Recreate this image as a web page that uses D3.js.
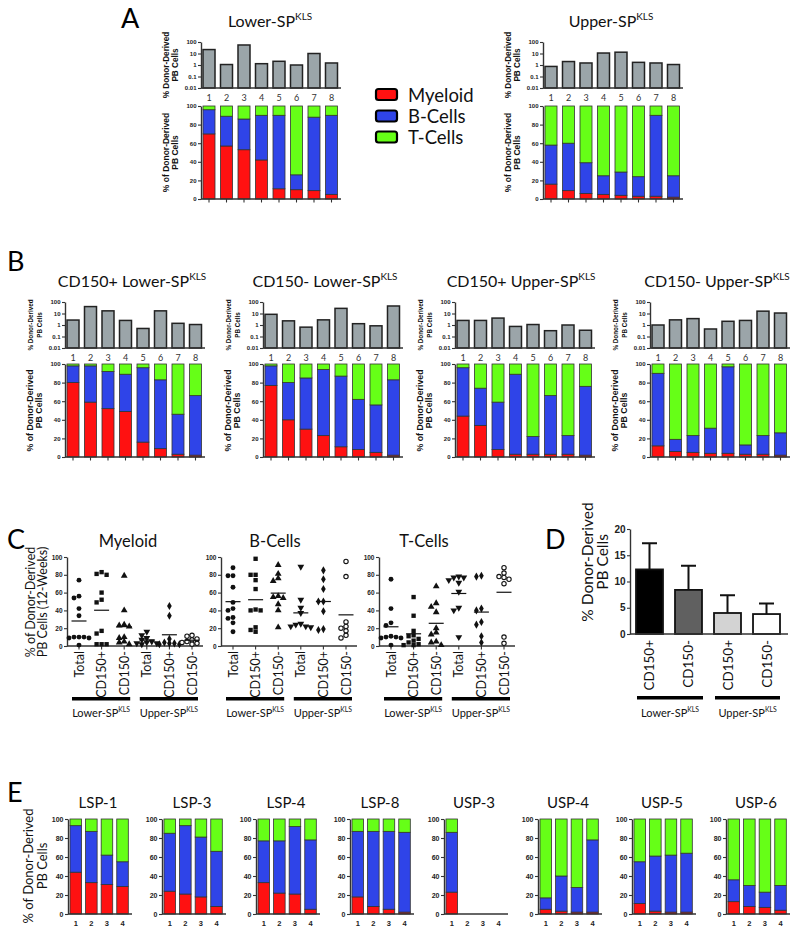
<!DOCTYPE html>
<html><head><meta charset="utf-8">
<script src="https://cdn.jsdelivr.net/npm/d3@7"></script>
<style>body{margin:0;background:#fff;}</style>
</head><body>
<svg id="fig" width="800" height="933"></svg>
<script>
// ---------------- DATA ----------------
const donors = ["1","2","3","4","5","6","7","8"];
const timepoints = ["1","2","3","4"];
const logTicks = [0.01, 0.1, 1, 10, 100];
const pctTicks = [0, 20, 40, 60, 80, 100];
const dTicks = [0, 5, 10, 15, 20];
const lineages = ["Myeloid", "B-Cells", "T-Cells"];

// Panel A
const lowerSPTotal   = [22, 1.1, 55, 1.3, 2.1, 1.0, 10, 1.5];
const lowerSPMyeloid = [70, 57, 53, 42, 11, 10, 9, 5];
const lowerSPBcell   = [26, 32, 33, 48, 79, 16, 79, 85];
const lowerSPTcell   = [4, 11, 14, 10, 10, 74, 12, 10];
const upperSPTotal   = [0.75, 2.0, 1.5, 11, 13, 1.7, 1.5, 1.1];
const upperSPMyeloid = [16, 9, 6, 5, 4, 3, 3, 2];
const upperSPBcell   = [42, 51, 33, 20, 25, 21, 87, 23];
const upperSPTcell   = [42, 40, 61, 75, 71, 76, 10, 75];

// Panel B
const cd150pLowerTotal   = [2.7, 40, 17, 2.5, 0.5, 17, 1.4, 1.1];
const cd150pLowerMyeloid = [80, 59, 52, 49, 16, 9, 3, 2];
const cd150pLowerBcell   = [18, 39, 40, 40, 80, 74, 43, 64];
const cd150pLowerTcell   = [2, 2, 8, 11, 4, 17, 54, 34];
const cd150mLowerTotal   = [8.5, 2.3, 0.65, 2.8, 28, 1.3, 0.85, 45];
const cd150mLowerMyeloid = [77, 40, 30, 23, 11, 8, 5, 2];
const cd150mLowerBcell   = [21, 40, 55, 71, 76, 54, 51, 81];
const cd150mLowerTcell   = [2, 20, 15, 6, 13, 38, 44, 17];
const cd150pUpperTotal   = [2.5, 2.5, 4, 0.75, 1.1, 0.32, 1.0, 0.35];
const cd150pUpperMyeloid = [44, 34, 8, 3, 3, 3, 3, 2];
const cd150pUpperBcell   = [52, 40, 51, 86, 19, 63, 20, 74];
const cd150pUpperTcell   = [4, 26, 41, 11, 78, 34, 77, 24];
const cd150mUpperTotal   = [1.0, 2.8, 3.6, 0.45, 2.1, 2.5, 16, 11];
const cd150mUpperMyeloid = [12, 6, 5, 4, 4, 3, 3, 2];
const cd150mUpperBcell   = [78, 13, 18, 27, 93, 10, 20, 24];
const cd150mUpperTcell   = [10, 81, 77, 69, 3, 87, 77, 74];

// Panel C
const cGroups = ["Total", "CD150+", "CD150-", "Total", "CD150+", "CD150-"];
const myeloidLowerTotal  = [74, 56, 54, 42, 34, 10, 10, 9, 9, 10, 1];
const myeloidLowerCD150p = [81, 80, 83, 60, 52, 49, 17, 14, 2, 2, 2];
const myeloidLowerCD150m = [79, 40, 24, 23, 22, 10, 9, 5, 4, 2];
const myeloidUpperTotal  = [16, 12, 9, 7, 5, 4, 3, 3, 2];
const myeloidUpperCD150p = [45, 34, 8, 4, 3, 3, 2, 2];
const myeloidUpperCD150m = [12, 11, 8, 7, 5, 4, 3, 2];
const bcellLowerTotal    = [88, 79, 79, 66, 49, 42, 40, 32, 31, 26, 16];
const bcellLowerCD150p   = [98, 80, 80, 74, 64, 41, 40, 40, 21, 18, 16];
const bcellLowerCD150m   = [91, 81, 76, 73, 56, 55, 54, 47, 40, 21];
const bcellUpperTotal    = [89, 52, 43, 37, 25, 24, 22, 22, 21];
const bcellUpperCD150p   = [85, 75, 64, 50, 50, 39, 18, 19];
const bcellUpperCD150m   = [95, 78, 27, 22, 20, 17, 12, 9];
const tcellLowerTotal    = [75, 42, 26, 23, 11, 10, 10, 9, 9, 1];
const tcellLowerCD150p   = [55, 34, 17, 12, 11, 8, 6, 4, 2, 1, 1];
const tcellLowerCD150m   = [67, 48, 44, 38, 20, 15, 13, 5, 4, 1];
const tcellUpperTotal    = [77, 78, 77, 74, 71, 61, 43, 40, 10];
const tcellUpperCD150p   = [79, 78, 42, 40, 27, 24, 11, 4];
const tcellUpperCD150m   = [88, 82, 78, 77, 75, 70, 10, 3];

// Panel D
const dGroups = ["CD150+", "CD150-", "CD150+", "CD150-"];
const dMean = [12.3, 8.4, 4.0, 3.8];
const dSD   = [5.0, 4.6, 3.4, 2.0];

// Panel E
const eTitles = ["LSP-1", "LSP-3", "LSP-4", "LSP-8", "USP-3", "USP-4", "USP-5", "USP-6"];
const lsp1Myeloid = [44, 33, 31, 29], lsp1Bcell = [49, 54, 31, 26], lsp1Tcell = [7, 13, 38, 45];
const lsp3Myeloid = [24, 21, 18, 8],  lsp3Bcell = [61, 72, 63, 58], lsp3Tcell = [15, 7, 19, 34];
const lsp4Myeloid = [33, 22, 21, 5],  lsp4Bcell = [44, 55, 71, 73], lsp4Tcell = [23, 23, 8, 22];
const lsp8Myeloid = [18, 8, 5, 2],    lsp8Bcell = [69, 79, 82, 84], lsp8Tcell = [13, 13, 13, 14];
const usp3Myeloid = [23, null, null, null], usp3Bcell = [63, null, null, null], usp3Tcell = [14, null, null, null];
const usp4Myeloid = [5, 3, 2, 2],     usp4Bcell = [12, 37, 26, 76], usp4Tcell = [83, 60, 72, 22];
const usp5Myeloid = [11, 3, 2, 2],    usp5Bcell = [44, 58, 60, 62], usp5Tcell = [45, 39, 38, 36];
const usp6Myeloid = [13, 8, 7, 4],    usp6Bcell = [23, 22, 16, 26], usp6Tcell = [64, 70, 77, 70];

// ---------------- DRAWING ----------------
const svg = d3.select("#fig");
const FONT = "Lato, 'Open Sans', sans-serif";
const AXF = "'Liberation Sans', Arial, sans-serif";
const col = {"Myeloid": "#ff1111", "B-Cells": "#2f44e8", "T-Cells": "#66ff17"};

function supText(g, x, y, main, sup, fs, anchor) {
  const t = g.append("text").attr("x", x).attr("y", y)
    .attr("font-family", FONT).attr("font-size", fs)
    .attr("text-anchor", anchor || "middle").attr("fill", "#111");
  t.append("tspan").text(main);
  if (sup) t.append("tspan").attr("font-size", fs * 0.62).attr("dy", -fs * 0.42).text(sup);
  return t;
}
function rotLabel(g, x, y, txt, fs, weight, family) {
  g.append("text").attr("transform", `translate(${x},${y}) rotate(-90)`)
    .attr("text-anchor", "middle").attr("font-family", family || FONT)
    .attr("font-weight", weight || "normal").attr("font-size", fs).attr("fill", "#111").text(txt);
}
function leftAxis(g, scale, ticks, fmt, x, fs) {
  const a = d3.axisLeft(scale).tickValues(ticks).tickFormat(fmt).tickSize(3).tickSizeOuter(0).tickPadding(1.5);
  const gg = g.append("g").attr("transform", `translate(${x},0)`).call(a);
  gg.select(".domain").attr("stroke", "#333").attr("stroke-width", 1.4);
  gg.selectAll(".tick line").attr("stroke", "#333").attr("stroke-width", 1.1);
  gg.selectAll(".tick text").attr("font-family", AXF).attr("font-weight", "bold")
    .attr("font-size", fs).attr("fill", "#222");
  return gg;
}
function hline(g, x1, x2, y) {
  g.append("line").attr("x1", x1).attr("x2", x2).attr("y1", y).attr("y2", y)
    .attr("stroke", "#333").attr("stroke-width", 1.4);
}
function stackBars(g, x, y, cats, m, b, t) {
  const rows = cats.map((c, i) => ({cat: c, "Myeloid": m[i], "B-Cells": b[i], "T-Cells": t[i]}))
    .filter(r => r["Myeloid"] != null);
  const series = d3.stack().keys(lineages)(rows);
  g.append("g").selectAll("g").data(series).join("g").attr("fill", d => col[d.key])
    .selectAll("rect").data(d => d).join("rect")
    .attr("x", d => x(d.data.cat)).attr("width", x.bandwidth())
    .attr("y", d => y(d[1])).attr("height", d => y(d[0]) - y(d[1]))
    .attr("stroke", "#333").attr("stroke-width", 0.8);
}

function compPanel(c) {
  const g = svg.append("g");
  const x = d3.scaleBand().domain(donors).range([c.ax + 2, c.ax + 136.5]).paddingInner(0.314).paddingOuter(0);
  const yl = d3.scaleLog().domain([0.01, 100]).range([c.logBot, c.logTop]);
  g.append("g").selectAll("rect").data(c.total).join("rect")
    .attr("x", (d, i) => x(donors[i])).attr("width", x.bandwidth())
    .attr("y", d => yl(d)).attr("height", d => c.logBot - yl(d))
    .attr("fill", "#9ba5a9").attr("stroke", "#222").attr("stroke-width", 1.5);
  leftAxis(g, yl, logTicks, d => String(d), c.ax, 6);
  hline(g, c.ax, c.ax + 140, c.logBot);
  g.append("g").selectAll("text").data(donors).join("text")
    .attr("x", d => x(d) + x.bandwidth() / 2).attr("y", c.logBot + 12.5)
    .attr("text-anchor", "middle").attr("font-family", FONT).attr("font-size", 9)
    .attr("fill", "#333").text(d => d);
  const ys = d3.scaleLinear().domain([0, 100]).range([c.stBot, c.stTop]);
  stackBars(g, x, ys, donors, c.m, c.b, c.t);
  leftAxis(g, ys, pctTicks, d => d, c.ax, 6);
  hline(g, c.ax, c.ax + 140, c.stBot);
  g.append("g").selectAll("line").data(donors).join("line")
    .attr("x1", d => x(d) + x.bandwidth() / 2).attr("x2", d => x(d) + x.bandwidth() / 2)
    .attr("y1", c.stBot).attr("y2", c.stBot + 3.5).attr("stroke", "#333").attr("stroke-width", 1.1);
  const lm = (c.logTop + c.logBot) / 2, sm = (c.stTop + c.stBot) / 2;
  rotLabel(g, c.ax - 32, lm, "% Donor-Derived", c.upFs, "bold", AXF);
  rotLabel(g, c.ax - 23, lm, "PB Cells", c.upFs, "bold", AXF);
  rotLabel(g, c.ax - 32, sm, "% of Donor-Derived", c.lowFs, "bold", AXF);
  rotLabel(g, c.ax - 23, sm, "PB Cells", c.lowFs, "bold", AXF);
  supText(g, c.titleX, c.titleY, c.title, "KLS", 16);
}

// Panel letters
[["A", 121, 28], ["B", 7, 271], ["C", 7, 549], ["D", 545, 549], ["E", 7, 802]].forEach(([l, x, y]) => {
  svg.append("text").attr("x", x).attr("y", y).attr("font-family", FONT)
    .attr("font-size", 27).attr("fill", "#000").text(l);
});

// A
compPanel({ax: 201, logTop: 42, logBot: 88, stTop: 106, stBot: 199, total: lowerSPTotal,
  m: lowerSPMyeloid, b: lowerSPBcell, t: lowerSPTcell, title: "Lower-SP", titleX: 270, titleY: 27, upFs: 8.2, lowFs: 8.5});
compPanel({ax: 543, logTop: 42, logBot: 88, stTop: 106, stBot: 199, total: upperSPTotal,
  m: upperSPMyeloid, b: upperSPBcell, t: upperSPTcell, title: "Upper-SP", titleX: 611, titleY: 27, upFs: 8.2, lowFs: 8.5});

// legend
const leg = svg.append("g");
lineages.forEach((k, i) => {
  const cy = [94.5, 116, 137][i];
  leg.append("rect").attr("x", 376).attr("y", cy - 5.5).attr("width", 21).attr("height", 11)
    .attr("rx", 2.5).attr("fill", col[k]).attr("stroke", "#000").attr("stroke-width", 2.2);
  leg.append("text").attr("x", 408).attr("y", cy + 7).attr("font-family", FONT)
    .attr("font-size", 18.5).attr("fill", "#111").text(k);
});

// B
const bTop = {logTop: 302, logBot: 348, stTop: 364, stBot: 457, titleY: 287, upFs: 6.3, lowFs: 8.8};
compPanel(Object.assign({ax: 65, total: cd150pLowerTotal, m: cd150pLowerMyeloid, b: cd150pLowerBcell, t: cd150pLowerTcell,
  title: "CD150+ Lower-SP", titleX: 132}, bTop));
compPanel(Object.assign({ax: 263, total: cd150mLowerTotal, m: cd150mLowerMyeloid, b: cd150mLowerBcell, t: cd150mLowerTcell,
  title: "CD150- Lower-SP", titleX: 325}, bTop));
compPanel(Object.assign({ax: 455, total: cd150pUpperTotal, m: cd150pUpperMyeloid, b: cd150pUpperBcell, t: cd150pUpperTcell,
  title: "CD150+ Upper-SP", titleX: 521}, bTop));
compPanel(Object.assign({ax: 650, total: cd150mUpperTotal, m: cd150mUpperMyeloid, b: cd150mUpperBcell, t: cd150mUpperTcell,
  title: "CD150- Upper-SP", titleX: 717}, bTop));

// C
const shapes = [
  {type: d3.symbolCircle, size: 19},
  {type: d3.symbolSquare, size: 19},
  {type: d3.symbolTriangle, size: 20},
  {type: d3.symbolTriangle, size: 20, rot: true},
  {type: d3.symbolDiamond, size: 19},
  {type: d3.symbolCircle, size: 15, open: true}
];
function swarm(vals, cx, y) {
  const sorted = vals.map((v, i) => ({v, i})).sort((a, b) => b.v - a.v);
  const placed = [];
  const offs = [0, -5, 5, -10, 10, -15, 15];
  sorted.forEach(p => {
    const py = y(p.v);
    for (const o of offs) {
      if (!placed.some(q => Math.abs(q.x - (cx + o)) < 4.5 && Math.abs(q.y - py) < 4)) { p.x = cx + o; p.y = py; break; }
    }
    if (p.x == null) { p.x = cx; p.y = py; }
    placed.push(p);
  });
  return placed;
}
function groupBars(g, segs, yLine, yText) {
  segs.forEach(([x1, x2, name]) => {
    g.append("rect").attr("x", x1).attr("y", yLine).attr("width", x2 - x1).attr("height", 3.5).attr("fill", "#000");
    supText(g, (x1 + x2) / 2, yText, name, "KLS", 11);
  });
}
function scatterPanel(c) {
  const g = svg.append("g");
  const y = d3.scaleLinear().domain([0, 100]).range([646, 557]);
  const x = d3.scalePoint().domain(d3.range(6)).range([c.ax + 12, c.ax + 125]);
  leftAxis(g, y, pctTicks, d => d, c.ax, 6.5);
  hline(g, c.ax, c.ax + 136, 646);
  g.append("g").selectAll("line").data(d3.range(6)).join("line")
    .attr("x1", d => x(d)).attr("x2", d => x(d)).attr("y1", 646).attr("y2", 649.5)
    .attr("stroke", "#333").attr("stroke-width", 1.1);
  c.groups.forEach((vals, gi) => {
    const pts = swarm(vals, x(gi), y);
    const sh = shapes[gi];
    g.append("g").selectAll("path").data(pts).join("path")
      .attr("transform", d => `translate(${d.x},${d.y})${sh.rot ? " rotate(180)" : ""}`)
      .attr("d", d3.symbol().type(sh.type).size(sh.size))
      .attr("fill", sh.open ? "#fff" : "#111").attr("stroke", "#111").attr("stroke-width", sh.open ? 1.1 : 0);
    const mu = d3.mean(vals);
    g.append("line").attr("x1", x(gi) - 7.5).attr("x2", x(gi) + 7.5).attr("y1", y(mu)).attr("y2", y(mu))
      .attr("stroke", "#111").attr("stroke-width", 1.2);
  });
  g.append("g").selectAll("text").data(cGroups).join("text")
    .attr("transform", (d, i) => `translate(${x(i) + 4.5},${651}) rotate(-90)`)
    .attr("text-anchor", "end").attr("font-family", FONT).attr("font-size", 12.5).attr("fill", "#111").text(d => d);
  groupBars(g, [[x(0) - 7, x(2) + 6, "Lower-SP"], [x(3) - 7, x(5) + 6, "Upper-SP"]], 697, 717);
  g.append("text").attr("x", c.titleX).attr("y", 547).attr("text-anchor", "middle")
    .attr("font-family", FONT).attr("font-size", 16.5).attr("fill", "#111").text(c.title);
}
const cg = svg.append("g");
rotLabel(cg, 35, 602, "% of Donor-Derived", 12.5);
rotLabel(cg, 47, 602, "PB Cells (12-Weeks)", 12.5);
scatterPanel({ax: 67, title: "Myeloid", titleX: 128, groups: [myeloidLowerTotal, myeloidLowerCD150p, myeloidLowerCD150m, myeloidUpperTotal, myeloidUpperCD150p, myeloidUpperCD150m]});
scatterPanel({ax: 221, title: "B-Cells", titleX: 275, groups: [bcellLowerTotal, bcellLowerCD150p, bcellLowerCD150m, bcellUpperTotal, bcellUpperCD150p, bcellUpperCD150m]});
scatterPanel({ax: 379, title: "T-Cells", titleX: 424, groups: [tcellLowerTotal, tcellLowerCD150p, tcellLowerCD150m, tcellUpperTotal, tcellUpperCD150p, tcellUpperCD150m]});

// D
(function () {
  const g = svg.append("g");
  const y = d3.scaleLinear().domain([0, 20]).range([634, 529]);
  const x = d3.scaleBand().domain(d3.range(4)).range([636, 780]).paddingInner(0.308).paddingOuter(0);
  const fills = ["#000000", "#606060", "#d3d3d3", "#ffffff"];
  g.append("g").selectAll("path").data(dMean).join("path")
    .attr("d", (d, i) => {
      const cx = x(i) + x.bandwidth() / 2, yt = y(d + dSD[i]);
      return `M${cx},${y(d)}V${yt}M${cx - 7.5},${yt}H${cx + 7.5}`;
    }).attr("stroke", "#111").attr("stroke-width", 2).attr("fill", "none");
  g.append("g").selectAll("rect").data(dMean).join("rect")
    .attr("x", (d, i) => x(i)).attr("width", x.bandwidth())
    .attr("y", d => y(d)).attr("height", d => 634 - y(d))
    .attr("fill", (d, i) => fills[i]).attr("stroke", "#111").attr("stroke-width", 1.8);
  leftAxis(g, y, dTicks, d => d, 630, 10);
  hline(g, 630, 788, 634);
  g.append("g").selectAll("text").data(dGroups).join("text")
    .attr("transform", (d, i) => `translate(${x(i) + x.bandwidth() / 2 + 5},${640}) rotate(-90)`)
    .attr("text-anchor", "end").attr("font-family", FONT).attr("font-size", 13.5).attr("fill", "#111").text(d => d);
  rotLabel(g, 593, 562, "% Donor-Derived", 15.5);
  rotLabel(g, 608, 562, "PB Cells", 15.5);
  groupBars(g, [[637, 703, "Lower-SP"], [715, 780, "Upper-SP"]], 696, 717);
})();

// E
const eData = [
  [lsp1Myeloid, lsp1Bcell, lsp1Tcell], [lsp3Myeloid, lsp3Bcell, lsp3Tcell],
  [lsp4Myeloid, lsp4Bcell, lsp4Tcell], [lsp8Myeloid, lsp8Bcell, lsp8Tcell],
  [usp3Myeloid, usp3Bcell, usp3Tcell], [usp4Myeloid, usp4Bcell, usp4Tcell],
  [usp5Myeloid, usp5Bcell, usp5Tcell], [usp6Myeloid, usp6Bcell, usp6Tcell]
];
eTitles.forEach((title, i) => {
  const g = svg.append("g");
  const ax = 68 + i * 94;
  const x = d3.scaleBand().domain(timepoints).range([ax + 2, ax + 60.3]).paddingInner(0.26).paddingOuter(0);
  const y = d3.scaleLinear().domain([0, 100]).range([914, 819]);
  const [m, b, t] = eData[i];
  stackBars(g, x, y, timepoints, m, b, t);
  leftAxis(g, y, pctTicks, d => d, ax, 7);
  hline(g, ax, ax + 64, 914);
  g.append("g").selectAll("text").data(timepoints).join("text")
    .attr("x", d => x(d) + x.bandwidth() / 2).attr("y", 926)
    .attr("text-anchor", "middle").attr("font-family", AXF).attr("font-weight", "bold")
    .attr("font-size", 7.5).attr("fill", "#222").text(d => d);
  g.append("text").attr("x", ax + 30).attr("y", 808).attr("text-anchor", "middle")
    .attr("font-family", FONT).attr("font-size", 15).attr("fill", "#111").text(title);
});
const eg = svg.append("g");
rotLabel(eg, 33, 866, "% of Donor-Derived", 13);
rotLabel(eg, 47, 866, "PB Cells", 13);
</script>
</body></html>
